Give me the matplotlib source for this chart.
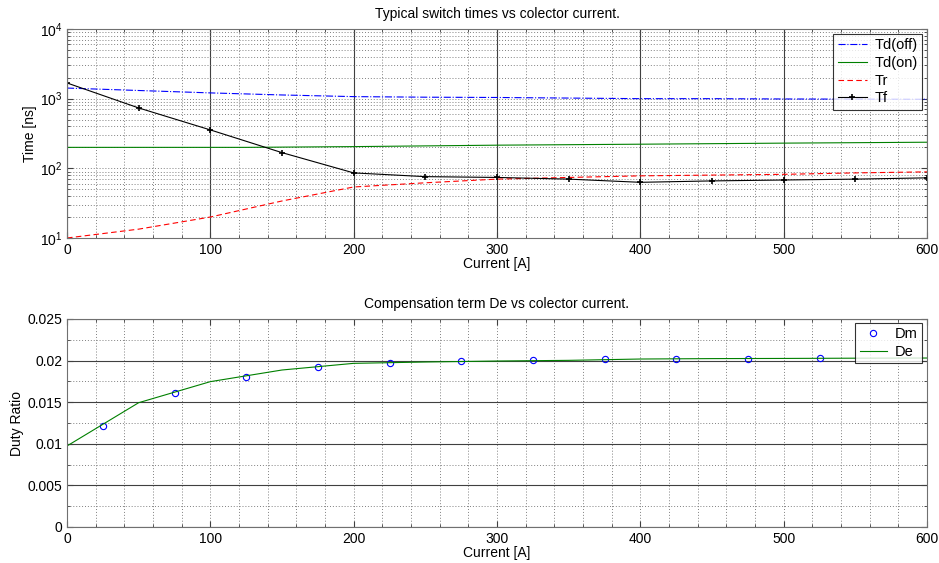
import numpy as np
import matplotlib
matplotlib.use("Agg")
import matplotlib.pyplot as plt
from matplotlib.ticker import MultipleLocator, LogLocator, NullFormatter

plt.rcParams['font.family'] = ['Liberation Sans', 'DejaVu Sans']
plt.rcParams['font.size'] = 10
plt.rcParams['mathtext.fontset'] = 'custom'
plt.rcParams['mathtext.rm'] = 'Liberation Sans'

# switch times vs collector current
current = [0, 50, 100, 150, 200, 250, 300, 350, 400, 450, 500, 550, 600]
td_off = [1420, 1310, 1210, 1130, 1070, 1050, 1040, 1020, 1000, 1000, 990, 985, 980]
td_on_current = [0, 125, 200, 300, 400, 500, 600]
td_on = [200, 200, 205, 215, 222, 230, 237]
tr = [10, 13.4, 20, 34, 54, 62, 70, 74, 78, 80, 82, 86, 89]
tf = [1680, 736, 356, 168, 86, 76, 74, 70, 63, 66, 68, 70, 73]

# compensation term
dm_current = [25, 75, 125, 175, 225, 275, 325, 375, 425, 475, 525]
dm = [0.01218, 0.01611, 0.01807, 0.01927, 0.01975, 0.01991, 0.02003,
      0.02015, 0.02023, 0.02023, 0.02031]
de = [0.00974, 0.01494, 0.01747, 0.01887, 0.01967, 0.01983, 0.01995,
      0.02003, 0.02019, 0.02024, 0.02026, 0.02029, 0.02031]

fig = plt.figure(figsize=(9.39, 5.63), dpi=100)
ax1 = fig.add_axes([67 / 939, 1 - 238 / 563, 860 / 939, 209 / 563])
ax2 = fig.add_axes([67 / 939, 1 - 527 / 563, 860 / 939, 208 / 563])

grid_dot = dict(color='#808080', linestyle=(0, (1, 2)), linewidth=0.7)

# top plot
ax1.plot(current, td_off, color='blue', linestyle='-.', linewidth=0.8, label='Td(off)')
ax1.plot(td_on_current, td_on, color='green', linestyle='-', linewidth=0.8, label='Td(on)')
ax1.plot(current, tr, color='red', linestyle='--', linewidth=0.8, dashes=(5, 3), label='Tr')
ax1.plot(current, tf, color='black', linestyle='-', linewidth=0.8, marker='+',
         markersize=5, markeredgewidth=1.2, label='Tf')
ax1.set_yscale('log')
ax1.set_xlim(0, 600)
ax1.set_ylim(10, 1e4)
ax1.xaxis.set_major_locator(MultipleLocator(100))
ax1.xaxis.set_minor_locator(MultipleLocator(20))
ax1.yaxis.set_major_locator(LogLocator(base=10))
ax1.yaxis.set_minor_locator(LogLocator(base=10, subs=np.arange(2, 10)))
ax1.yaxis.set_minor_formatter(NullFormatter())
ax1.grid(True, axis='x', which='major', color='#404040', linestyle='-', linewidth=0.8)
ax1.grid(True, axis='x', which='minor', **grid_dot)
ax1.grid(True, axis='y', which='both', **grid_dot)
ax1.set_title('Typical switch times vs colector current.', fontsize=10, pad=8)
ax1.set_xlabel('Current [A]', labelpad=0)
ax1.set_ylabel('Time [ns]', labelpad=2)
ax1.legend(loc='upper right', frameon=True, fancybox=False, edgecolor='black',
           fontsize=10.5, handlelength=2.0, handletextpad=0.5, borderpad=0.3,
           labelspacing=0.25, borderaxespad=0,
           bbox_to_anchor=(0.994, 0.976)).get_frame().set_linewidth(0.8)

# bottom plot
ax2.plot(dm_current, dm, linestyle='none', marker='o', markersize=4.5,
         markerfacecolor='none', markeredgecolor='blue', markeredgewidth=0.8, label='Dm')
ax2.plot(current, de, color='green', linewidth=0.8, label='De')
ax2.set_xlim(0, 600)
ax2.set_ylim(0, 0.025)
ax2.xaxis.set_major_locator(MultipleLocator(100))
ax2.xaxis.set_minor_locator(MultipleLocator(20))
ax2.yaxis.set_major_locator(MultipleLocator(0.005))
ax2.yaxis.set_minor_locator(MultipleLocator(0.0025))
ax2.yaxis.set_major_formatter(plt.FuncFormatter(lambda v, p: '0' if v == 0 else f'{v:g}'))
ax2.grid(True, axis='y', which='major', color='#404040', linestyle='-', linewidth=0.8)
ax2.grid(True, axis='y', which='minor', **grid_dot)
ax2.grid(True, axis='x', which='both', **grid_dot)
ax2.set_title('Compensation term De vs colector current.', fontsize=10, pad=8)
ax2.set_xlabel('Current [A]', labelpad=0)
ax2.set_ylabel('Duty Ratio', labelpad=2)
ax2.legend(loc='upper right', frameon=True, fancybox=False, edgecolor='black',
           fontsize=10.5, handlelength=1.9, handletextpad=0.5, borderpad=0.3,
           labelspacing=0.25, borderaxespad=0,
           bbox_to_anchor=(0.994, 0.981)).get_frame().set_linewidth(0.8)

for ax in (ax1, ax2):
    ax.set_axisbelow(True)
    ax.tick_params(which='both', direction='in', top=True, right=True, labelsize=10,
                   color='#404040')
    ax.tick_params(which='major', length=4)
    ax.tick_params(which='minor', length=2)
    for s in ax.spines.values():
        s.set_color('#707070')
        s.set_linewidth(0.8)

fig.savefig('out.png', dpi=100, facecolor='white')
